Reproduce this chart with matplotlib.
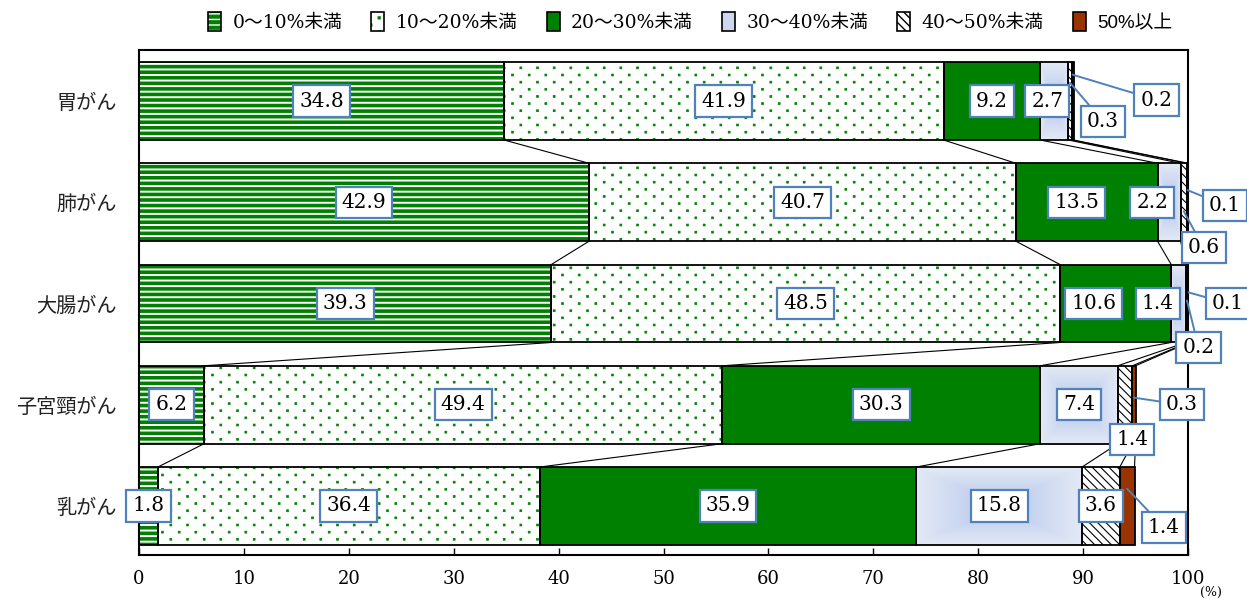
import numpy as np
import matplotlib.pyplot as plt
import matplotlib.hatch as mhatch
from matplotlib.path import Path
from matplotlib.patches import Patch
from matplotlib.colors import LinearSegmentedColormap
from matplotlib.legend_handler import HandlerTuple

plt.rcParams['font.family'] = ['DejaVu Serif', 'Noto Sans CJK JP', 'DejaVu Sans']

# データ
cats = ['胃がん', '肺がん', '大腸がん', '子宮頸がん', '乳がん']
series = ['0～10%未満', '10～20%未満', '20～30%未満', '30～40%未満', '40～50%未満', '50%以上']
s0 = [34.8, 42.9, 39.3, 6.2, 1.8]
s1 = [41.9, 40.7, 48.5, 49.4, 36.4]
s2 = [9.2, 13.5, 10.6, 30.3, 35.9]
s3 = [2.7, 2.2, 1.4, 7.4, 15.8]
s4 = [0.3, 0.6, 0.2, 1.4, 3.6]
s5 = [0.2, 0.1, 0.1, 0.3, 1.4]
xticks = [0, 10, 20, 30, 40, 50, 60, 70, 80, 90, 100]

vals = np.array([s0, s1, s2, s3, s4, s5])
cum = np.cumsum(vals, axis=0)
start = cum - vals


# 千鳥状の細かい点（Excelの点線パターン風）
class StaggerDots(mhatch.HatchPatternBase):
    def __init__(self, hatch, density):
        n = hatch.count(':')
        self.nc = 6 * n
        self.nr = 14 * n
        self.num_vertices = self.nc * self.nr * 5

    def set_vertices_and_codes(self, vertices, codes):
        s = 0.0095
        pts = []
        for r in range(self.nr):
            for c in range(self.nc):
                pts.append(((c + 0.25 + 0.5 * (r % 2)) / self.nc, (r + 0.5) / self.nr))
        pts = np.array(pts)
        sq = np.array([[-s, -s], [s, -s], [s, s], [-s, s], [-s, -s]])
        vertices[:] = (pts[:, None, :] + sq[None]).reshape(-1, 2)
        codes[:] = np.tile([Path.MOVETO, Path.LINETO, Path.LINETO,
                            Path.LINETO, Path.CLOSEPOLY], len(pts))


mhatch._hatch_types.append(StaggerDots)

GREEN = '#008000'
BLUE = '#4f81bd'
# face, hatch colour, hatch, hatch lw
styles = [
    (GREEN, 'white', '---', 1.4),
    ('white', GREEN, ':', 0.5),
    (GREEN, GREEN, None, 1.0),
    ('#cdd8ef', '#cdd8ef', None, 1.0),
    ('white', 'black', '\\\\\\\\', 0.8),
    ('#993300', '#993300', None, 1.0),
]

fig = plt.figure(figsize=(12.47, 5.99), dpi=100)
ax = fig.add_axes([139/1247, 1-555/599, (1188-139)/1247, (555-50)/599])

y = np.arange(len(cats))
h = 0.77


def set_hlw(patches, lw):
    for p in patches:
        if hasattr(p, 'set_hatch_linewidth'):
            p.set_hatch_linewidth(lw)


cmap = LinearSegmentedColormap.from_list('g', ['#b2c4ea', '#e3e9f6'])
uu = np.linspace(-1, 1, 200)
U, V = np.meshgrid(uu, uu)
T = np.maximum(np.abs(U), np.abs(V)) ** 0.9

for k in range(6):
    fc, hc, hatch, hlw = styles[k]
    bars = ax.barh(y, vals[k], left=start[k], height=h, color=fc,
                   edgecolor=hc, hatch=hatch, linewidth=0, zorder=1)
    set_hlw(bars, hlw)
    if k == 3:
        for i in y:
            ax.imshow(T, cmap=cmap, extent=(start[k][i], cum[k][i], i + h/2, i - h/2),
                      aspect='auto', zorder=1.5, interpolation='bilinear')
    ax.barh(y, vals[k], left=start[k], height=h, fill=False,
            edgecolor='black', linewidth=1.3, zorder=2)

# 区分線
for i in range(len(cats) - 1):
    for k in range(6):
        ax.plot([cum[k][i], cum[k][i+1]], [i + h/2, i + 1 - h/2],
                color='black', lw=0.8, zorder=2)

# ラベル位置の調整
moved = {(0, 3): (86.6, 0), (1, 2): (89.4, 1), (1, 3): (96.6, 1),
         (2, 2): (91.0, 2), (2, 3): (97.1, 2), (3, 4): (94.7, 3.34)}
callouts = {(0, 4): ((91.9, 0.20), -0.18), (0, 5): ((97.0, -0.01), -0.26),
            (1, 4): ((101.5, 1.45), 1.09), (1, 5): ((103.5, 1.03), 0.88),
            (2, 4): ((101.0, 2.43), 1.97), (2, 5): ((103.8, 2.00), 1.89),
            (3, 5): ((99.4, 3.00), 2.93), (4, 5): ((97.7, 4.21), 3.83)}

box = dict(boxstyle='square,pad=0.3', fc='white', ec=BLUE, lw=1.6)
for k in range(6):
    for i in y:
        v = vals[k][i]
        mid = start[k][i] + v / 2
        txt = f'{v:.1f}'
        key = (i, k)
        if key in callouts:
            (tx, ty), ay = callouts[key]
            ax.annotate(txt, xy=(mid, ay), xytext=(tx, ty), ha='center', va='center',
                        fontsize=14.5, bbox=box, zorder=5, annotation_clip=False,
                        arrowprops=dict(arrowstyle='-', color=BLUE, lw=1.4,
                                        shrinkA=0, shrinkB=0))
        else:
            tx, ty = moved.get(key, (mid, i))
            ax.text(tx, ty, txt, ha='center', va='center', fontsize=14.5,
                    bbox=box, zorder=5)

ax.set_xlim(0, 100)
ax.set_ylim(4.484, -0.504)
ax.set_xticks(xticks)
ax.set_xticklabels([str(t) for t in xticks], fontsize=13)
ax.set_yticks(y)
ax.set_yticklabels(cats, fontsize=14.5, family=['Noto Sans CJK JP'], color='#222222')
ax.tick_params(axis='x', direction='in', length=5, width=1, pad=11)
ax.tick_params(axis='y', length=0, pad=16)
for s in ax.spines.values():
    s.set_linewidth(1.5)
    s.set_color('black')

fig.text(1211/1247, 1-592/599, '(%)', fontsize=9, ha='center', va='center')

# 凡例
handles = []
for k in range(6):
    fc, hc, hatch, hlw = styles[k]
    p1 = Patch(facecolor=fc, edgecolor=hc, hatch=hatch, linewidth=0)
    set_hlw([p1], hlw)
    p2 = Patch(fill=False, edgecolor='black', linewidth=1.2)
    handles.append((p1, p2))
leg = fig.legend(handles, series, ncol=6, loc='center', bbox_to_anchor=(690/1247, 1-22/599),
                 frameon=False, fontsize=13.5, handlelength=0.7, handleheight=1.2,
                 handletextpad=0.6, columnspacing=1.55,
                 handler_map={tuple: HandlerTuple(ndivide=1, pad=0)})
leg.get_texts()[5].set_family(['Liberation Sans', 'Noto Sans CJK JP'])

fig.savefig('out.png', dpi=100)
